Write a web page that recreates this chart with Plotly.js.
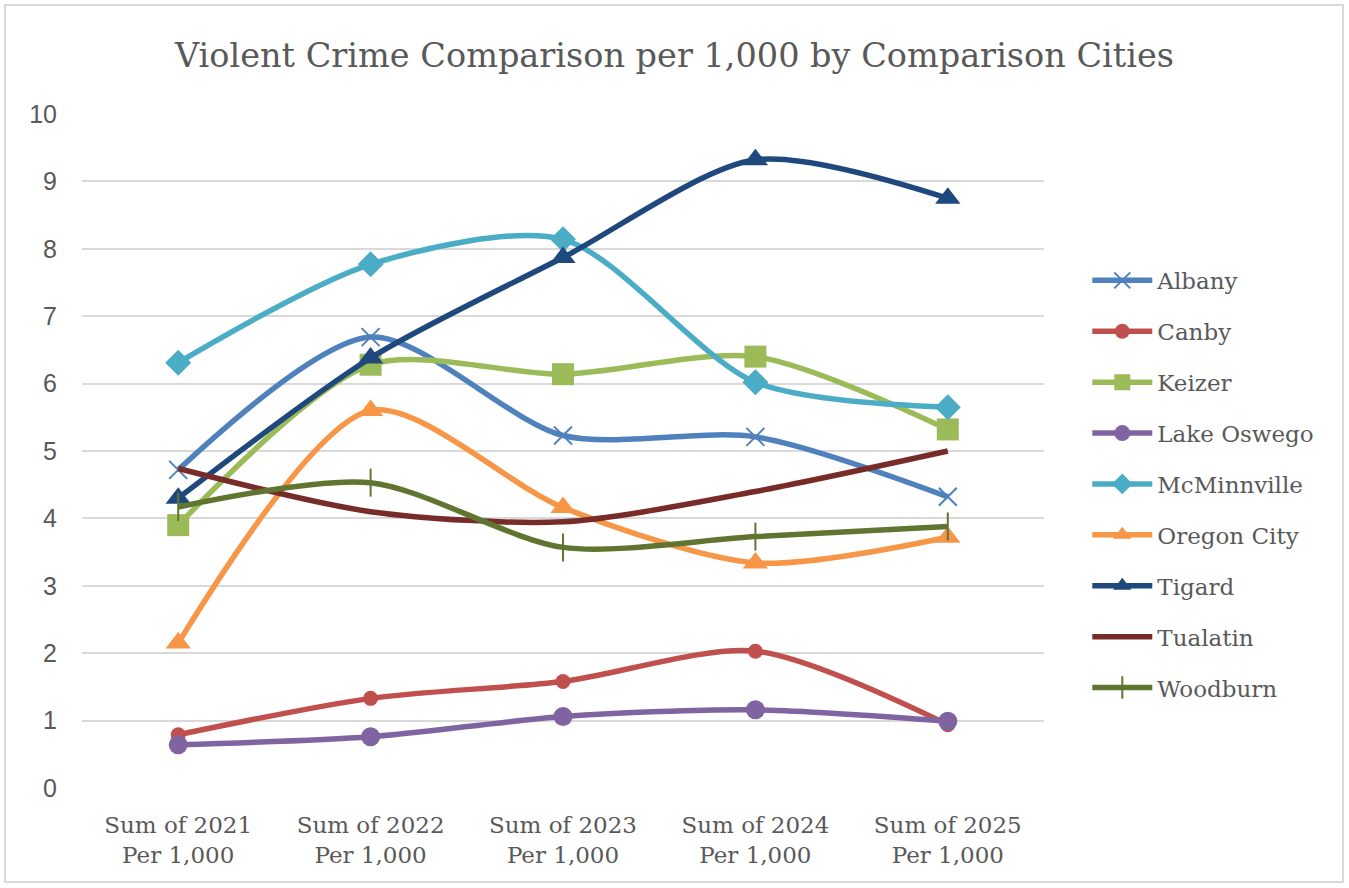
<!DOCTYPE html>
<html>
<head>
<meta charset="utf-8">
<script src="https://cdn.plot.ly/plotly-3.0.1.min.js"></script>
<style>
html,body{margin:0;padding:0;background:#fff;}
#wrap{position:relative;width:1349px;height:888px;}
#frame{position:absolute;left:4px;top:4px;width:1340px;height:879px;border:2px solid #d9d9d9;box-sizing:border-box;pointer-events:none;z-index:5;}
#chart{width:1349px;height:888px;}
</style>
</head>
<body>
<div id="wrap"><div id="chart"></div><div id="frame"></div></div>
<script>
const categories = ["Sum of 2021<br>Per 1,000","Sum of 2022<br>Per 1,000","Sum of 2023<br>Per 1,000","Sum of 2024<br>Per 1,000","Sum of 2025<br>Per 1,000"];
const albany      = [4.72, 6.69, 5.23, 5.21, 4.32];
const canby       = [0.79, 1.33, 1.58, 2.03, 0.94];
const keizer      = [3.90, 6.28, 6.14, 6.40, 5.32];
const lakeOswego  = [0.64, 0.76, 1.06, 1.16, 0.99];
const mcminnville = [6.31, 7.77, 8.14, 6.02, 5.65];
const oregonCity  = [2.15, 5.60, 4.16, 3.34, 3.72];
const tigard      = [4.30, 6.38, 7.87, 9.32, 8.75];
const tualatin    = [4.74, 4.10, 3.95, 4.40, 5.00];
const woodburn    = [4.17, 4.53, 3.57, 3.73, 3.88];

const seriesDefs = [
  {name:"Albany", y:albany, color:"#4F81BD", symbol:"x-thin-open", size:18},
  {name:"Canby", y:canby, color:"#C0504D", symbol:"circle", size:15},
  {name:"Keizer", y:keizer, color:"#9BBB59", symbol:"square", size:22},
  {name:"Lake Oswego", y:lakeOswego, color:"#8064A2", symbol:"circle", size:19},
  {name:"McMinnville", y:mcminnville, color:"#4BACC6", symbol:"diamond", size:20},
  {name:"Oregon City", y:oregonCity, color:"#F79646", symbol:"triangle-up", size:22},
  {name:"Tigard", y:tigard, color:"#1F497D", symbol:"triangle-up", size:22},
  {name:"Tualatin", y:tualatin, color:"#772C2A", symbol:null, size:0},
  {name:"Woodburn", y:woodburn, color:"#5F7530", symbol:"line-ns-open", size:20}
];

const traces = seriesDefs.map(s => {
  const t = {
    type:"scatter",
    x:categories,
    y:s.y,
    name:s.name,
    legendgroup:s.name,
    mode: s.symbol ? "lines+markers" : "lines",
    line:{color:s.color, width:5.5, shape:"spline", smoothing:0.8}
  };
  if (s.symbol) {
    t.marker = {symbol:s.symbol, size:s.size, color:s.color, line:{color:s.color, width:(s.symbol.indexOf("open")>=0?2:0)}};
  }
  return t;
});

const layout = {
  width:1349, height:888,
  paper_bgcolor:"#ffffff", plot_bgcolor:"#ffffff",
  margin:{l:82, r:305, t:114, b:100},
  title:{text:"Violent Crime Comparison per 1,000 by Comparison Cities",
         font:{family:"DejaVu Serif, Liberation Serif, serif", size:33.5, color:"#595959"},
         x:0.5, xanchor:"center", y:0.938, yanchor:"middle"},
  xaxis:{type:"category", range:[-0.5,4.5], showgrid:false, zeroline:false, showline:false,
         ticks:"", ticklabelstandoff:21,
         tickfont:{family:"DejaVu Serif, Liberation Serif, serif", size:23, color:"#595959"}},
  yaxis:{range:[0,10], dtick:1, showgrid:true, gridcolor:"#d9d9d9", gridwidth:2,
         zeroline:false, showline:false, ticks:"", ticklabelstandoff:24,
         tickfont:{family:"Liberation Sans, Arial, sans-serif", size:25, color:"#595959"}},
  showlegend:true,
  legend:{x:1.045, xanchor:"left", y:0.785, yanchor:"top", tracegroupgap:18,
          font:{family:"DejaVu Serif, Liberation Serif, serif", size:23, color:"#595959"},
          itemwidth:60, bgcolor:"rgba(0,0,0,0)"}
};

Plotly.newPlot("chart", traces, layout, {displayModeBar:false, staticPlot:true});
</script>
</body>
</html>
